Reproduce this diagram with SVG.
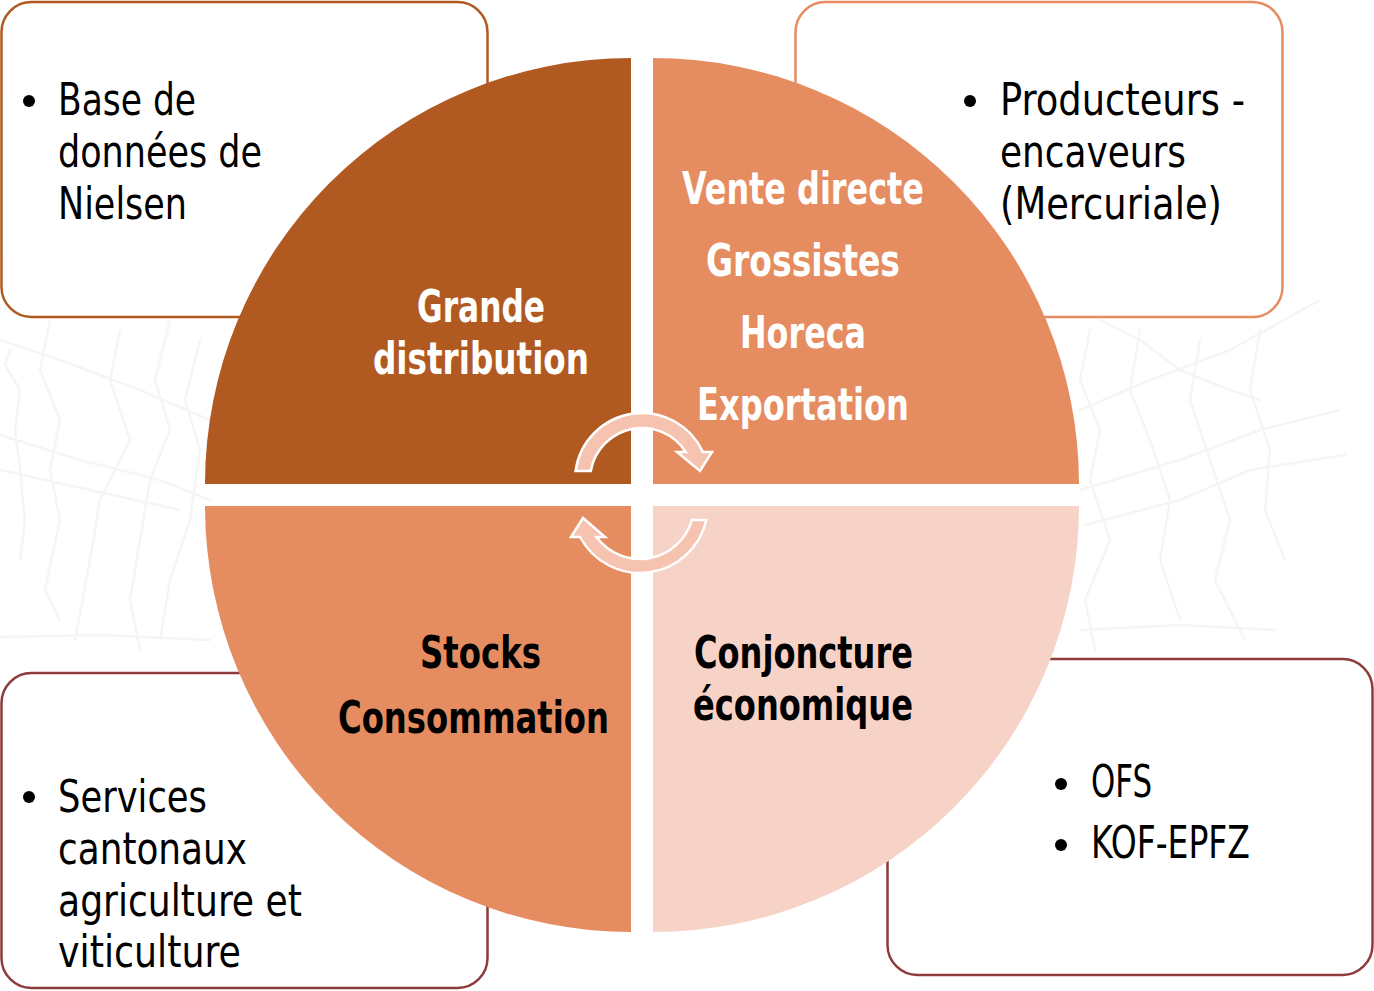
<svg xmlns="http://www.w3.org/2000/svg" width="1374" height="991" viewBox="0 0 1374 991">
<style>
.bg{fill:none;stroke:#f5f5f5;stroke-width:2.5;stroke-linecap:round;stroke-linejoin:round}
.box{fill:#ffffff;stroke-width:2.5}
.body{font-family:"Liberation Sans Narrow","DejaVu Sans Condensed","Roboto Condensed","Liberation Sans",sans-serif;font-size:44px;fill:#000000}
.cond{font-family:"Liberation Sans Narrow","DejaVu Sans Condensed","Roboto Condensed","Liberation Sans",sans-serif;font-size:44px;fill:#000000}
.lbl{font-family:"Liberation Sans Narrow","DejaVu Sans Condensed","Roboto Condensed","Liberation Sans",sans-serif;font-size:44px;font-weight:bold}
.w{fill:#ffffff}
.k{fill:#000000}
.arrow{fill:#F5C3AF;stroke:#ffffff;stroke-width:2.5;stroke-linejoin:miter}
</style>
<rect width="1374" height="991" fill="#ffffff"/>
<g id="background">
<polyline class="bg" points="0,340 60,360 140,390 210,420"/>
<polyline class="bg" points="0,435 80,460 160,480 210,500"/>
<polyline class="bg" points="0,470 90,490 180,510"/>
<polyline class="bg" points="10,350 5,365 20,390 15,430 20,470 25,520 20,560"/>
<polyline class="bg" points="50,320 40,370 60,420 50,470 60,520 45,590 60,620"/>
<polyline class="bg" points="120,330 110,380 130,440 100,500 90,560 75,640"/>
<polyline class="bg" points="170,320 155,380 170,430 150,480 140,540 130,600 140,650"/>
<polyline class="bg" points="200,340 185,400 200,450 190,520 170,580 160,640"/>
<polyline class="bg" points="0,637 100,635 210,640"/>
<polyline class="bg" points="1100,320 1140,340 1180,370 1230,390 1260,400"/>
<polyline class="bg" points="1080,410 1150,380 1230,350 1320,300"/>
<polyline class="bg" points="1080,490 1180,460 1260,430 1340,410"/>
<polyline class="bg" points="1085,525 1180,500 1250,470 1345,455"/>
<polyline class="bg" points="1080,630 1180,625 1275,630"/>
<polyline class="bg" points="1090,330 1080,380 1100,430 1090,480 1110,540 1085,600 1095,650"/>
<polyline class="bg" points="1140,330 1130,390 1150,440 1170,500 1160,560 1180,620"/>
<polyline class="bg" points="1200,340 1190,400 1210,460 1230,520 1215,580 1245,640"/>
<polyline class="bg" points="1260,330 1250,390 1270,450 1265,510 1285,560"/>
</g>
<g id="box-tl">
<rect class="box" x="1.5" y="2" width="486" height="315" rx="30" stroke="#B05A22"/>
<circle cx="29" cy="101" r="6"/>
<text class="body" x="58" y="115" textLength="138" lengthAdjust="spacingAndGlyphs">Base de</text>
<text class="body" x="58" y="167" textLength="204" lengthAdjust="spacingAndGlyphs">données de</text>
<text class="body" x="58" y="219" textLength="129" lengthAdjust="spacingAndGlyphs">Nielsen</text>
</g>
<g id="box-tr">
<rect class="box" x="795.5" y="2" width="487" height="315" rx="30" stroke="#E68C61"/>
<circle cx="970" cy="101" r="6"/>
<text class="body" x="1000" y="115" textLength="245" lengthAdjust="spacingAndGlyphs">Producteurs -</text>
<text class="body" x="1000" y="167" textLength="186" lengthAdjust="spacingAndGlyphs">encaveurs</text>
<text class="body" x="1000" y="219" textLength="222" lengthAdjust="spacingAndGlyphs">(Mercuriale)</text>
</g>
<g id="box-bl">
<rect class="box" x="1.5" y="673" width="486" height="315" rx="30" stroke="#8E3B3B"/>
<circle cx="29" cy="797" r="6"/>
<text class="body" x="58" y="812" textLength="149" lengthAdjust="spacingAndGlyphs">Services</text>
<text class="body" x="58" y="864" textLength="189" lengthAdjust="spacingAndGlyphs">cantonaux</text>
<text class="body" x="58" y="916" textLength="244" lengthAdjust="spacingAndGlyphs">agriculture et</text>
<text class="body" x="58" y="967" textLength="183" lengthAdjust="spacingAndGlyphs">viticulture</text>
</g>
<g id="box-br">
<rect class="box" x="887.5" y="659" width="485" height="316" rx="30" stroke="#8E3B3B"/>
<circle cx="1061" cy="784" r="6"/>
<circle cx="1061" cy="845" r="6"/>
<text class="cond" x="1091" y="797" textLength="61" lengthAdjust="spacingAndGlyphs">OFS</text>
<text class="cond" x="1091" y="858" textLength="159" lengthAdjust="spacingAndGlyphs">KOF-EPFZ</text>
</g>
<g id="quadrant-tl">
<path d="M631,484 L631,58 A426,426 0 0 0 205,484 Z" fill="#B05A22"/>
<text class="lbl w" x="417" y="322" textLength="128" lengthAdjust="spacingAndGlyphs">Grande</text>
<text class="lbl w" x="373" y="374" textLength="216" lengthAdjust="spacingAndGlyphs">distribution</text>
</g>
<g id="quadrant-tr">
<path d="M653,484 L653,58 A426,426 0 0 1 1079,484 Z" fill="#E68C61"/>
<text class="lbl w" x="682" y="204" textLength="242" lengthAdjust="spacingAndGlyphs">Vente directe</text>
<text class="lbl w" x="706" y="276" textLength="194" lengthAdjust="spacingAndGlyphs">Grossistes</text>
<text class="lbl w" x="740" y="348" textLength="126" lengthAdjust="spacingAndGlyphs">Horeca</text>
<text class="lbl w" x="697" y="420" textLength="212" lengthAdjust="spacingAndGlyphs">Exportation</text>
</g>
<g id="quadrant-bl">
<path d="M631,506 L205,506 A426,426 0 0 0 631,932 Z" fill="#E68C61"/>
<text class="lbl k" x="420" y="668" textLength="121" lengthAdjust="spacingAndGlyphs">Stocks</text>
<text class="lbl k" x="338" y="733" textLength="271" lengthAdjust="spacingAndGlyphs">Consommation</text>
</g>
<g id="quadrant-br">
<path d="M653,506 L1079,506 A426,426 0 0 1 653,932 Z" fill="#F7D3C7"/>
<text class="lbl k" x="694" y="668" textLength="219" lengthAdjust="spacingAndGlyphs">Conjoncture</text>
<text class="lbl k" x="693" y="720" textLength="220" lengthAdjust="spacingAndGlyphs">économique</text>
</g>
<g id="connectors">
<path class="arrow" d="M575.6,471 A67,67 0 0 1 702.9,452 L712,452 L700,471 L677,452 L685.8,452 A52,52 0 0 0 590.8,471 Z"/>
<path class="arrow" d="M706.3,520 A68,68 0 0 1 580,537 L571,537 L583,518 L605,537 L596.5,537 A54,54 0 0 0 691.9,520 Z"/>
</g>
</svg>
